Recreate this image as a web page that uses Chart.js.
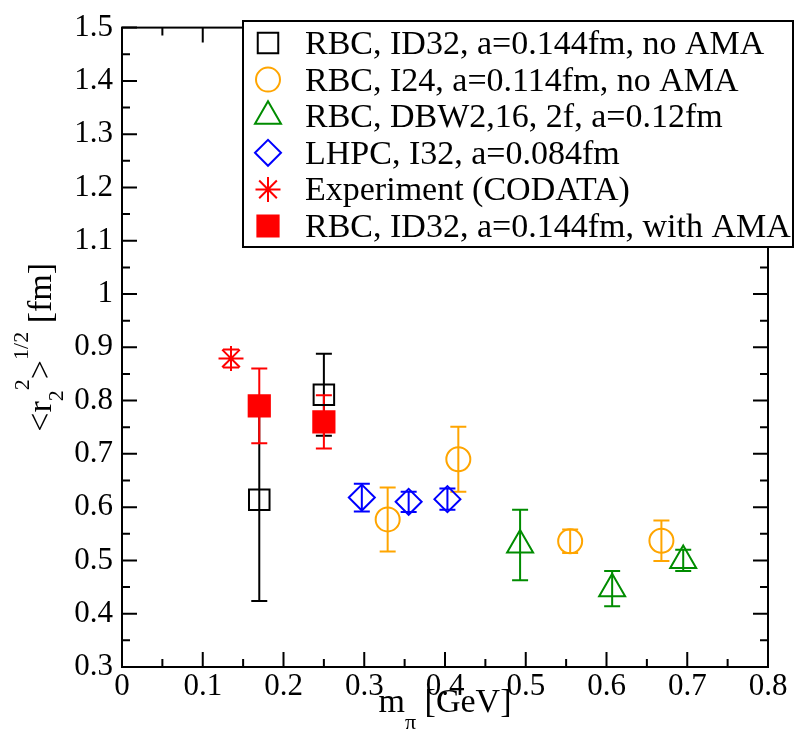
<!DOCTYPE html>
<html>
<head>
<meta charset="utf-8">
<script src="https://cdn.jsdelivr.net/npm/chart.js@4.4.1/dist/chart.umd.min.js"></script>
<style>
  html, body { margin: 0; padding: 0; background: #fff; }
  canvas { display: block; }
  #warm { position: absolute; left: -9999px; top: 0; font-family: "Liberation Serif", serif; font-size: 31px; }
</style>
</head>
<body>
<span id="warm">RBC 0.1 [GeV]</span>
<canvas id="c" width="798" height="740"></canvas>
<script>
// r2 radius vs pion mass

// RBC, ID32, a=0.144fm, no AMA
const xId32 = [0.17, 0.25];
const yId32 = [0.614, 0.811];
const eId32 = [0.19, 0.077];

// RBC, I24, a=0.114fm, no AMA
const xI24 = [0.329, 0.4165, 0.555, 0.668];
const yI24 = [0.577, 0.690, 0.536, 0.537];
const eI24 = [0.06, 0.061, 0.022, 0.038];

// RBC, DBW2,16, 2f, a=0.12fm
const xDbw2 = [0.493, 0.607, 0.695];
const yDbw2 = [0.529, 0.447, 0.500];
const eDbw2 = [0.066, 0.033, 0.02];

// LHPC, I32, a=0.084fm
const xLhpc = [0.297, 0.355, 0.403];
const yLhpc = [0.618, 0.610, 0.615];
const eLhpc = [0.026, 0.019, 0.02];

// Experiment (CODATA)
const xExp = [0.135];
const yExp = [0.879];
const eExp = [0.017];

// RBC, ID32, a=0.144fm, with AMA
const xAma = [0.17, 0.25];
const yAma = [0.790, 0.760];
const eAma = [0.07, 0.05];

const labels = [
  'RBC, ID32, a=0.144fm, no AMA',
  'RBC, I24, a=0.114fm, no AMA',
  'RBC, DBW2,16, 2f, a=0.12fm',
  'LHPC, I32, a=0.084fm',
  'Experiment (CODATA)',
  'RBC, ID32, a=0.144fm, with AMA'
];

const xTicks = [0, 0.1, 0.2, 0.3, 0.4, 0.5, 0.6, 0.7, 0.8];
const yTicks = [0.3, 0.4, 0.5, 0.6, 0.7, 0.8, 0.9, 1, 1.1, 1.2, 1.3, 1.4, 1.5];

const SERIF = '"Liberation Serif", "Times New Roman", Tinos, "DejaVu Serif", serif';

function pts(xs, ys) {
  return xs.map((x, i) => ({ x: x, y: ys[i] }));
}

function mk(label, xs, ys, es, color, style, radius, fill, order) {
  return {
    label: label,
    data: pts(xs, ys),
    errY: es,
    showLine: false,
    pointStyle: style,
    pointRadius: radius,
    pointHoverRadius: radius,
    pointBorderWidth: 2,
    pointBorderColor: color,
    pointBackgroundColor: fill ? color : 'rgba(0,0,0,0)',
    borderColor: color,
    backgroundColor: fill ? color : 'rgba(0,0,0,0)',
    order: order
  };
}

const datasets = [
  mk(labels[0], xId32, yId32, eId32, '#000000', 'rect', 14.5, false, 2),
  mk(labels[1], xI24, yI24, eI24, '#ffa500', 'circle', 12, false, 2),
  mk(labels[2], xDbw2, yDbw2, eDbw2, '#008c00', 'triangle', 15, false, 2),
  mk(labels[3], xLhpc, yLhpc, eLhpc, '#0000ff', 'rectRot', 13, false, 2),
  mk(labels[4], xExp, yExp, eExp, '#ff0000', 'star', 12.5, false, 2),
  mk(labels[5], xAma, yAma, eAma, '#ff0000', 'rect', 15, true, 1)
];

// error bars, drawn under the symbols
const errorBars = {
  id: 'errorBars',
  beforeDatasetsDraw(chart) {
    const ctx = chart.ctx;
    const xs = chart.scales.x, ys = chart.scales.y;
    ctx.save();
    for (let d = 0; d < chart.data.datasets.length; d++) {
      const ds = chart.data.datasets[d];
      ctx.strokeStyle = ds.pointBorderColor;
      ctx.lineWidth = 2;
      ds.data.forEach((p, i) => {
        const e = ds.errY[i];
        const px = xs.getPixelForValue(p.x);
        const top = ys.getPixelForValue(p.y + e);
        const bot = ys.getPixelForValue(p.y - e);
        ctx.beginPath();
        ctx.moveTo(px, top); ctx.lineTo(px, bot);
        ctx.moveTo(px - 8, top); ctx.lineTo(px + 8, top);
        ctx.moveTo(px - 8, bot); ctx.lineTo(px + 8, bot);
        ctx.stroke();
      });
    }
    ctx.restore();
  }
};

// frame with inward major/minor ticks on all four sides
const frameTicks = {
  id: 'frameTicks',
  afterDatasetsDraw(chart) {
    const ctx = chart.ctx;
    const a = chart.chartArea;
    const xs = chart.scales.x, ys = chart.scales.y;
    ctx.save();
    ctx.strokeStyle = '#000';
    ctx.lineWidth = 2;
    ctx.strokeRect(a.left, a.top, a.right - a.left, a.bottom - a.top);
    ctx.beginPath();
    for (let i = 0; i <= 16; i++) {
      const px = xs.getPixelForValue(i * 0.05);
      const len = i % 2 === 0 ? 15 : 8;
      ctx.moveTo(px, a.bottom); ctx.lineTo(px, a.bottom - len);
      ctx.moveTo(px, a.top); ctx.lineTo(px, a.top + len);
    }
    for (let i = 0; i <= 24; i++) {
      const py = ys.getPixelForValue(0.3 + i * 0.05);
      const len = i % 2 === 0 ? 15 : 8;
      ctx.moveTo(a.left, py); ctx.lineTo(a.left + len, py);
      ctx.moveTo(a.right, py); ctx.lineTo(a.right - len, py);
    }
    ctx.stroke();
    ctx.restore();
  }
};

// a run of [text, size, shift] pieces along one baseline, centred on cx
function richText(ctx, parts, cx, y) {
  let total = 0;
  for (const [t, size] of parts) {
    ctx.font = size + 'px ' + SERIF;
    total += ctx.measureText(t).width;
  }
  let x = cx - total / 2;
  for (const [t, size, shift] of parts) {
    ctx.font = size + 'px ' + SERIF;
    ctx.fillText(t, x, y + shift);
    x += ctx.measureText(t).width;
  }
}

const titles = {
  id: 'titles',
  afterDraw(chart) {
    const ctx = chart.ctx;
    const a = chart.chartArea;
    ctx.save();
    ctx.fillStyle = '#000';
    ctx.textBaseline = 'alphabetic';
    ctx.textAlign = 'left';
    // x title: m_pi [GeV]
    richText(ctx, [['m', 34, 0], ['\u03c0', 22, 17], [' [GeV]', 34, 0]], (a.left + a.right) / 2, 712);
    // y title: <r_2^2>^{1/2} [fm]
    ctx.translate(51, (a.top + a.bottom) / 2);
    ctx.rotate(-Math.PI / 2);
    richText(ctx, [['<r', 34, 0], ['2', 22, 12], ['2', 22, -22], ['>', 34, 0], ['1/2', 22, -23], [' [fm]', 34, 0]], 0, 0);
    ctx.restore();
  }
};

const boxLegend = {
  id: 'boxLegend',
  afterDraw(chart) {
    const ctx = chart.ctx;
    ctx.save();
    ctx.fillStyle = '#fff';
    ctx.fillRect(243, 21, 550, 226);
    ctx.strokeStyle = '#000';
    ctx.lineWidth = 2;
    ctx.strokeRect(243, 21, 550, 226);
    chart.data.datasets.forEach((ds, i) => {
      const yc = 43 + i * 36.6;
      ctx.save();
      ctx.strokeStyle = ds.pointBorderColor;
      ctx.fillStyle = ds.pointBackgroundColor;
      ctx.lineWidth = 2;
      Chart.helpers.drawPoint(ctx, {
        pointStyle: ds.pointStyle, radius: ds.pointRadius, rotation: 0, borderWidth: 2
      }, 268, yc);
      ctx.restore();
      ctx.fillStyle = '#000';
      ctx.font = '34px ' + SERIF;
      ctx.textBaseline = 'alphabetic';
      ctx.fillText(ds.label, 305, yc + 11);
    });
    ctx.restore();
  }
};

const fmt = v => String(Number(v.toFixed(2)));

function draw() {
  new Chart(document.getElementById('c'), {
    type: 'scatter',
    data: { datasets: datasets },
    options: {
      responsive: false,
      animation: false,
      layout: { padding: { top: 21, right: 30, left: 0, bottom: 0 } },
      plugins: { legend: { display: false }, tooltip: { enabled: false } },
      scales: {
        x: {
          type: 'linear',
          min: xTicks[0], max: xTicks[xTicks.length - 1],
          afterBuildTicks: s => { s.ticks = xTicks.map(v => ({ value: v })); },
          afterFit: s => { s.height = 73; },
          grid: { display: false, drawTicks: false },
          border: { display: false },
          ticks: { color: '#000', padding: 1, font: { family: SERIF, size: 31 }, callback: v => fmt(v), maxRotation: 0, autoSkip: false }
        },
        y: {
          type: 'linear',
          min: yTicks[0], max: yTicks[yTicks.length - 1],
          afterBuildTicks: s => { s.ticks = yTicks.map(v => ({ value: v })); },
          afterFit: s => { s.width = 122; },
          grid: { display: false, drawTicks: false },
          border: { display: false },
          ticks: { color: '#000', padding: 9, font: { family: SERIF, size: 31 }, callback: v => fmt(v), autoSkip: false }
        }
      }
    },
    plugins: [errorBars, frameTicks, titles, boxLegend]
  });
}

if (document.fonts && document.fonts.load) {
  document.fonts.load('31px "Liberation Serif"').then(draw, draw);
} else {
  draw();
}
</script>
</body>
</html>
